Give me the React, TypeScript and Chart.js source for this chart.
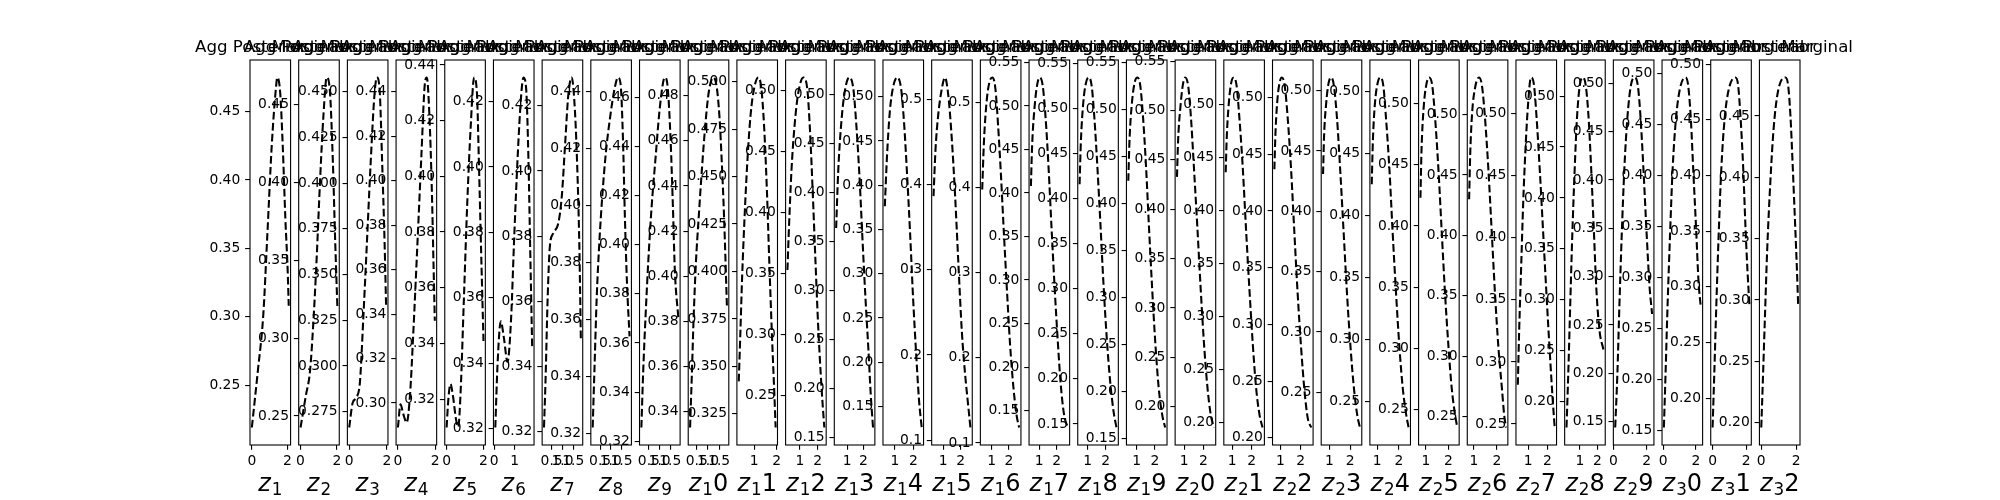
import React, { useEffect, useRef } from "react";
import { Chart, registerables } from "chart.js";

Chart.register(...registerables);

// ---------------- curve data (x, y) per latent dimension ----------------
const z1x = [0, 0.35, 0.64, 0.87, 1.12, 1.35, 1.43, 1.59, 1.74, 1.88, 2.01, 2.07];
const z1y = [0.219, 0.262, 0.301, 0.36, 0.426, 0.467, 0.475, 0.464, 0.423, 0.372, 0.334, 0.308];
const z2x = [0, 0.3, 0.52, 0.7, 0.89, 1.07, 1.26, 1.44, 1.62, 1.78, 1.9, 2.03];
const z2y = [0.2426, 0.2636, 0.2786, 0.309, 0.352, 0.4, 0.443, 0.4674, 0.458, 0.413, 0.365, 0.319];
const z3x = [0, 0.18, 0.39, 0.57, 0.75, 0.93, 1.14, 1.34, 1.47, 1.61, 1.75, 1.88, 1.96];
const z3y = [0.2663, 0.2797, 0.2828, 0.2913, 0.3266, 0.3653, 0.4113, 0.4482, 0.4578, 0.4519, 0.4113, 0.367, 0.3322];
const z4x = [0, 0.14, 0.28, 0.47, 0.65, 0.83, 1.04, 1.26, 1.44, 1.55, 1.69, 1.82, 1.91, 1.98];
const z4y = [0.289, 0.2994, 0.2953, 0.2912, 0.3037, 0.3324, 0.3704, 0.4113, 0.4431, 0.4464, 0.4294, 0.396, 0.3628, 0.337];
const z5x = [0, 0.1, 0.21, 0.36, 0.5, 0.63, 0.76, 0.94, 1.12, 1.31, 1.49, 1.64, 1.76, 1.87, 2.0];
const z5y = [0.3098, 0.3204, 0.3254, 0.3204, 0.3131, 0.31, 0.3227, 0.3566, 0.3905, 0.4183, 0.4355, 0.4305, 0.4026, 0.3735, 0.3409];
const z6x = [0.05, 0.16, 0.32, 0.47, 0.65, 0.82, 0.98, 1.15, 1.32, 1.43, 1.56, 1.68, 1.76, 1.86];
const z6y = [0.3203, 0.3396, 0.3528, 0.3478, 0.3404, 0.353, 0.3788, 0.4035, 0.422, 0.4274, 0.4243, 0.4014, 0.3757, 0.3447];
const z7x = [0.15, 0.22, 0.32, 0.42, 0.575, 0.81, 0.97, 1.12, 1.27, 1.425, 1.58, 1.7, 1.78, 1.85];
const z7y = [0.3213, 0.3355, 0.3613, 0.3768, 0.3809, 0.384, 0.3922, 0.4078, 0.4233, 0.4287, 0.418, 0.3976, 0.3768, 0.3478];
const z8x = [0.15, 0.24, 0.34, 0.46, 0.6, 0.77, 0.96, 1.15, 1.34, 1.46, 1.57, 1.66, 1.76, 1.88];
const z8y = [0.3221, 0.3442, 0.3679, 0.3868, 0.4033, 0.4187, 0.4306, 0.44, 0.445, 0.4426, 0.4235, 0.3962, 0.3725, 0.3541];
const z9x = [0.15, 0.235, 0.35, 0.475, 0.63, 0.82, 0.99, 1.17, 1.26, 1.38, 1.51, 1.62, 1.71, 1.87];
const z9y = [0.3256, 0.3484, 0.3718, 0.3937, 0.4157, 0.4363, 0.4541, 0.4664, 0.4681, 0.4638, 0.4432, 0.4157, 0.3897, 0.3705];
const z10x = [0.2, 0.28, 0.355, 0.46, 0.58, 0.73, 0.88, 1.04, 1.24, 1.39, 1.52, 1.62, 1.72, 1.85];
const z10y = [0.3329, 0.3563, 0.3802, 0.4057, 0.4251, 0.4474, 0.4668, 0.4819, 0.4881, 0.484, 0.47, 0.4504, 0.4265, 0.3863];
const z11x = [0.31, 0.375, 0.46, 0.57, 0.69, 0.835, 1.0, 1.18, 1.31, 1.435, 1.56, 1.67, 1.79, 1.9, 1.95];
const z11y = [0.3421, 0.3652, 0.397, 0.429, 0.4574, 0.4823, 0.4969, 0.5022, 0.4969, 0.4769, 0.4432, 0.4043, 0.3652, 0.3333, 0.3178];
const z12x = [0.3, 0.395, 0.53, 0.7, 0.905, 1.19, 1.42, 1.57, 1.72, 1.87, 2.02, 2.17, 2.29, 2.37];
const z12y = [0.3528, 0.3912, 0.4353, 0.4711, 0.4974, 0.5103, 0.5, 0.4656, 0.4161, 0.3609, 0.3085, 0.2672, 0.2397, 0.224];
const z13x = [0.32, 0.445, 0.61, 0.82, 1.13, 1.38, 1.57, 1.76, 1.94, 2.13, 2.32, 2.46, 2.6];
const z13y = [0.3636, 0.4203, 0.4649, 0.4991, 0.5169, 0.5058, 0.4681, 0.4168, 0.3551, 0.2931, 0.2382, 0.1937, 0.1605];
const z14x = [0.45, 0.56, 0.72, 0.905, 1.13, 1.33, 1.49, 1.65, 1.82, 1.98, 2.15, 2.31, 2.45];
const z14y = [0.3762, 0.4296, 0.483, 0.5114, 0.5217, 0.5094, 0.4715, 0.4145, 0.3457, 0.2734, 0.2089, 0.1556, 0.1263];
const z15x = [0.45, 0.565, 0.715, 0.91, 1.1, 1.29, 1.49, 1.68, 1.865, 2.06, 2.25, 2.44, 2.55];
const z15y = [0.3865, 0.442, 0.4814, 0.5111, 0.5258, 0.5052, 0.4539, 0.3865, 0.3077, 0.2283, 0.177, 0.1375, 0.1149];
const z16x = [0.44, 0.54, 0.695, 0.85, 1.03, 1.21, 1.37, 1.54, 1.71, 1.9, 2.07, 2.27, 2.45, 2.6];
const z16y = [0.3978, 0.4533, 0.5006, 0.5228, 0.5294, 0.5167, 0.473, 0.4138, 0.3464, 0.2752, 0.216, 0.1646, 0.1329, 0.1181];
const z17x = [0.53, 0.6, 0.74, 0.89, 1.04, 1.2, 1.37, 1.54, 1.71, 1.89, 2.06, 2.23, 2.42, 2.63];
const z17y = [0.408, 0.4547, 0.4989, 0.5247, 0.5327, 0.5235, 0.4857, 0.4274, 0.3578, 0.2882, 0.2299, 0.1797, 0.1451, 0.1306];
const z18x = [0.56, 0.63, 0.76, 0.91, 1.06, 1.225, 1.38, 1.54, 1.71, 1.88, 2.06, 2.25, 2.44, 2.6];
const z18y = [0.4157, 0.4622, 0.5053, 0.5278, 0.534, 0.5251, 0.4886, 0.4363, 0.3726, 0.3055, 0.2458, 0.1973, 0.1636, 0.1461];
const z19x = [0.55, 0.62, 0.745, 0.89, 1.04, 1.2, 1.35, 1.51, 1.67, 1.84, 2.02, 2.2, 2.39, 2.55];
const z19y = [0.4241, 0.4688, 0.5064, 0.528, 0.5339, 0.5253, 0.4918, 0.4401, 0.3757, 0.311, 0.2504, 0.2038, 0.1752, 0.1618];
const z20x = [0.63, 0.69, 0.82, 0.94, 1.06, 1.22, 1.36, 1.51, 1.69, 1.87, 2.04, 2.22, 2.39, 2.55];
const z20y = [0.4328, 0.4703, 0.506, 0.5265, 0.5335, 0.524, 0.4922, 0.4431, 0.382, 0.3173, 0.2629, 0.2187, 0.1915, 0.1788];
const z21x = [0.67, 0.73, 0.83, 0.95, 1.08, 1.23, 1.37, 1.54, 1.715, 1.89, 2.06, 2.23, 2.405, 2.56];
const z21y = [0.4361, 0.4707, 0.5011, 0.5202, 0.5255, 0.5179, 0.4882, 0.4423, 0.382, 0.3249, 0.274, 0.2328, 0.2074, 0.1955];
const z22x = [0.7, 0.76, 0.86, 0.97, 1.07, 1.21, 1.355, 1.52, 1.68, 1.85, 2.02, 2.19, 2.35, 2.52];
const z22y = [0.4368, 0.471, 0.5, 0.5139, 0.5176, 0.5105, 0.4827, 0.4383, 0.3834, 0.327, 0.2794, 0.2409, 0.2171, 0.2091];
const z23x = [0.7, 0.75, 0.85, 0.965, 1.095, 1.22, 1.37, 1.53, 1.69, 1.85, 2.02, 2.18, 2.34, 2.47];
const z23y = [0.4309, 0.4628, 0.4894, 0.5062, 0.5109, 0.5042, 0.477, 0.4323, 0.3819, 0.3317, 0.287, 0.2537, 0.2313, 0.2209];
const z24x = [0.75, 0.8, 0.89, 1.02, 1.14, 1.28, 1.4, 1.56, 1.71, 1.865, 2.02, 2.17, 2.33, 2.44];
const z24y = [0.4253, 0.4592, 0.4892, 0.507, 0.5115, 0.505, 0.4796, 0.4375, 0.3858, 0.3369, 0.2934, 0.2609, 0.2392, 0.229];
const z25x = [0.76, 0.81, 0.9, 1.02, 1.15, 1.285, 1.41, 1.56, 1.71, 1.855, 2.01, 2.15, 2.3, 2.4];
const z25y = [0.423, 0.4629, 0.4958, 0.5152, 0.5212, 0.5146, 0.4889, 0.4464, 0.3941, 0.3447, 0.3007, 0.2679, 0.2459, 0.2356];
const z26x = [0.79, 0.84, 0.925, 1.06, 1.22, 1.35, 1.48, 1.63, 1.78, 1.92, 2.07, 2.22, 2.32, 2.4];
const z26y = [0.4299, 0.4687, 0.5023, 0.5232, 0.5307, 0.524, 0.498, 0.4548, 0.4018, 0.3517, 0.307, 0.2737, 0.2514, 0.241];
const z27x = [0.46, 0.53, 0.64, 0.74, 0.86, 0.99, 1.145, 1.3, 1.44, 1.61, 1.79, 1.97, 2.14, 2.27, 2.38];
const z27y = [0.2816, 0.325, 0.3794, 0.4282, 0.4716, 0.5068, 0.5291, 0.5232, 0.4961, 0.4527, 0.4011, 0.3495, 0.3036, 0.2709, 0.2472];
const z28x = [0.23, 0.33, 0.44, 0.56, 0.7, 0.83, 0.985, 1.16, 1.33, 1.49, 1.64, 1.8, 1.95, 2.13, 2.35];
const z28y = [0.1745, 0.2264, 0.2928, 0.3622, 0.4282, 0.478, 0.5094, 0.5183, 0.5111, 0.4812, 0.4317, 0.3687, 0.3093, 0.2694, 0.2512];
const z29x = [0.1, 0.23, 0.35, 0.49, 0.65, 0.83, 1.05, 1.29, 1.47, 1.63, 1.81, 1.99, 2.17, 2.32];
const z29y = [0.144, 0.1987, 0.2685, 0.3416, 0.4112, 0.4637, 0.4984, 0.506, 0.4966, 0.4637, 0.4079, 0.345, 0.2892, 0.2614];
const z30x = [0.05, 0.15, 0.27, 0.42, 0.58, 0.785, 1.03, 1.356, 1.52, 1.685, 1.84, 2.01, 2.15, 2.29];
const z30y = [0.1532, 0.205, 0.271, 0.3403, 0.406, 0.4557, 0.4852, 0.4958, 0.4886, 0.4557, 0.403, 0.3468, 0.2971, 0.271];
const z31x = [0, 0.1, 0.22, 0.36, 0.52, 0.72, 0.98, 1.36, 1.52, 1.66, 1.83, 1.96, 2.09, 2.2];
const z31y = [0.1736, 0.2211, 0.2818, 0.3453, 0.4056, 0.4512, 0.4783, 0.488, 0.4814, 0.4541, 0.4056, 0.3544, 0.312, 0.283];
const z32x = [0, 0.09, 0.21, 0.34, 0.52, 0.71, 0.96, 1.39, 1.54, 1.675, 1.815, 1.95, 2.065, 2.12];
const z32y = [0.1961, 0.2337, 0.286, 0.3407, 0.3957, 0.4397, 0.4699, 0.4813, 0.4753, 0.4505, 0.4066, 0.3601, 0.3188, 0.2953];

// ---------------- tick labels ----------------
const T_25_45 = ["0.25", "0.30", "0.35", "0.40", "0.45"];
const T_275_450 = ["0.275", "0.300", "0.325", "0.350", "0.375", "0.400", "0.425", "0.450"];
const T_30_44 = ["0.30", "0.32", "0.34", "0.36", "0.38", "0.40", "0.42", "0.44"];
const T_32_44 = ["0.32", "0.34", "0.36", "0.38", "0.40", "0.42", "0.44"];
const T_32_42 = ["0.32", "0.34", "0.36", "0.38", "0.40", "0.42"];
const T_32_46 = ["0.32", "0.34", "0.36", "0.38", "0.40", "0.42", "0.44", "0.46"];
const T_34_48 = ["0.34", "0.36", "0.38", "0.40", "0.42", "0.44", "0.46", "0.48"];
const T_325_500 = ["0.325", "0.350", "0.375", "0.400", "0.425", "0.450", "0.475", "0.500"];
const T_25_50 = ["0.25", "0.30", "0.35", "0.40", "0.45", "0.50"];
const T_15_50 = ["0.15", "0.20", "0.25", "0.30", "0.35", "0.40", "0.45", "0.50"];
const T_1_5 = ["0.1", "0.2", "0.3", "0.4", "0.5"];
const T_15_55 = ["0.15", "0.20", "0.25", "0.30", "0.35", "0.40", "0.45", "0.50", "0.55"];
const T_20_55 = ["0.20", "0.25", "0.30", "0.35", "0.40", "0.45", "0.50", "0.55"];
const T_20_50 = ["0.20", "0.25", "0.30", "0.35", "0.40", "0.45", "0.50"];
const T_20_45 = ["0.20", "0.25", "0.30", "0.35", "0.40", "0.45"];

const X_0_2 = ["0", "2"];
const X_0_1 = ["0", "1"];
const X_HALF = ["0.5", "1.0", "1.5"];
const X_1_2 = ["1", "2"];

const TITLE_LEFT = "Agg Posterior";
const TITLE_RIGHT = "Marginal";

const curveX = [z1x, z2x, z3x, z4x, z5x, z6x, z7x, z8x, z9x, z10x, z11x, z12x, z13x, z14x, z15x, z16x,
  z17x, z18x, z19x, z20x, z21x, z22x, z23x, z24x, z25x, z26x, z27x, z28x, z29x, z30x, z31x, z32x];
const curveY = [z1y, z2y, z3y, z4y, z5y, z6y, z7y, z8y, z9y, z10y, z11y, z12y, z13y, z14y, z15y, z16y,
  z17y, z18y, z19y, z20y, z21y, z22y, z23y, z24y, z25y, z26y, z27y, z28y, z29y, z30y, z31y, z32y];
const yTicks = [T_25_45, T_25_45, T_275_450, T_30_44, T_32_44, T_32_42, T_32_42, T_32_44, T_32_46, T_34_48,
  T_325_500, T_25_50, T_15_50, T_15_50, T_1_5, T_1_5, T_15_55, T_15_55, T_15_55, T_20_55, T_20_50, T_20_50,
  T_25_50, T_25_50, T_25_50, T_25_50, T_25_50, T_20_50, T_15_50, T_15_50, T_20_50, T_20_45];
const xTicks = [X_0_2, X_0_2, X_0_2, X_0_2, X_0_2, X_0_1, X_HALF, X_HALF, X_HALF, X_HALF,
  X_1_2, X_1_2, X_1_2, X_1_2, X_1_2, X_1_2, X_1_2, X_1_2, X_1_2, X_1_2, X_1_2, X_1_2, X_1_2, X_1_2,
  X_1_2, X_1_2, X_1_2, X_1_2, X_0_2, X_0_2, X_0_2, X_0_2];

// ---------------- layout (matplotlib-like subplot grid) ----------------
const FIG_W = 2000;
const FIG_H = 500;
const N = curveX.length;
const AX_LEFT = 0.125 * FIG_W;
const AX_RIGHT = 0.9 * FIG_W;
const AX_TOP = 0.12 * FIG_H;
const AX_BOTTOM = 0.89 * FIG_H;
const WSPACE = 0.2;
const AX_W = (AX_RIGHT - AX_LEFT) / (N + (N - 1) * WSPACE);
const STEP = AX_W * (1 + WSPACE);
const CW = 240;
const OFF = 125;
const YW = 80;
const XH = 30;
const TICK = 4.86;
const LW = 2.08;
const FONT = '"DejaVu Sans", sans-serif';

function Panel({ i }: { i: number }) {
  const ref = useRef<HTMLCanvasElement>(null);
  const L = AX_LEFT + i * STEP;
  const cLeft = Math.floor(L) - OFF;

  useEffect(() => {
    const canvas = ref.current;
    if (!canvas) return;
    const xs = curveX[i];
    const ys = curveY[i];
    const xMin = Math.min(...xs), xMax = Math.max(...xs);
    const yMin = Math.min(...ys), yMax = Math.max(...ys);
    const xLo = xMin - 0.05 * (xMax - xMin), xHi = xMax + 0.05 * (xMax - xMin);
    const yLo = yMin - 0.05 * (yMax - yMin), yHi = yMax + 0.05 * (yMax - yMin);
    const yStr = yTicks[i].filter((s) => { const v = parseFloat(s); return v >= yLo - 1e-9 && v <= yHi + 1e-9; });
    const xStr = xTicks[i].filter((s) => { const v = parseFloat(s); return v >= xLo - 1e-9 && v <= xHi + 1e-9; });
    const localL = L - cLeft;

    const decor = {
      id: "decor" + i,
      afterDatasetsDraw(chart: any) {
        const { ctx, chartArea: a } = chart;
        ctx.save();
        ctx.setLineDash([]);
        ctx.strokeStyle = "#000";
        ctx.lineWidth = 1.1;
        ctx.strokeRect(a.left, a.top, a.right - a.left, a.bottom - a.top);
        ctx.restore();
      },
      afterDraw(chart: any) {
        const { ctx, chartArea: a } = chart;
        ctx.save();
        ctx.fillStyle = "#000";
        ctx.textBaseline = "alphabetic";
        ctx.font = `16.67px ${FONT}`;
        ctx.textAlign = "left";
        ctx.fillText(TITLE_LEFT, a.left - 55, 51.7);
        ctx.textAlign = "right";
        ctx.fillText(TITLE_RIGHT, a.right + 53, 51.7);
        // x label  $z_{d}rest$
        const num = String(i + 1);
        const sub = num[0];
        const rest = num.slice(1);
        ctx.textAlign = "left";
        ctx.font = `italic 24px ${FONT}`;
        const wz = ctx.measureText("z").width;
        ctx.font = `16.8px ${FONT}`;
        const ws = ctx.measureText(sub).width;
        ctx.font = `24px ${FONT}`;
        const wr = rest ? ctx.measureText(rest).width : 0;
        const total = wz + 1 + ws + wr;
        let x0 = (a.left + a.right) / 2 - total / 2;
        const base = 490.7;
        ctx.font = `italic 24px ${FONT}`;
        ctx.fillText("z", x0, base);
        x0 += wz + 1;
        ctx.font = `16.8px ${FONT}`;
        ctx.fillText(sub, x0, base + 4);
        x0 += ws;
        if (rest) {
          ctx.font = `24px ${FONT}`;
          ctx.fillText(rest, x0, base);
        }
        ctx.restore();
      },
    };

    const tickFont = { family: FONT, size: 13.89, lineHeight: 1.2 };
    const chart = new Chart(canvas, {
      type: "line",
      data: {
        datasets: [
          {
            data: xs.map((x, k) => ({ x, y: ys[k] })),
            borderColor: "#000",
            borderWidth: LW,
            borderDash: [3.7 * LW, 1.6 * LW],
            borderCapStyle: "butt",
            borderJoinStyle: "round",
            pointRadius: 0,
            fill: false,
            cubicInterpolationMode: "monotone",
          } as any,
        ],
      },
      options: {
        animation: false,
        responsive: false,
        maintainAspectRatio: false,
        devicePixelRatio: 1,
        events: [],
        layout: {
          padding: {
            left: localL - YW,
            right: CW - (localL + AX_W),
            top: AX_TOP,
            bottom: FIG_H - AX_BOTTOM - XH,
          },
        },
        plugins: {
          legend: { display: false },
          tooltip: { enabled: false },
          title: { display: false },
        },
        scales: {
          x: {
            type: "linear",
            min: xLo,
            max: xHi,
            afterBuildTicks: (s: any) => {
              s.ticks = xStr.map((v) => ({ value: parseFloat(v) }));
            },
            afterFit: (s: any) => {
              s.height = XH;
              s.paddingLeft = 0;
              s.paddingRight = 0;
            },
            ticks: {
              autoSkip: false,
              maxRotation: 0,
              minRotation: 0,
              padding: 3,
              color: "#000",
              font: tickFont,
              callback: (_v: any, idx: number) => xStr[idx],
            },
            grid: { display: true, drawOnChartArea: false, drawTicks: true, tickLength: TICK, color: "#000", lineWidth: 1.1 },
            border: { display: false },
          },
          y: {
            type: "linear",
            min: yLo,
            max: yHi,
            afterBuildTicks: (s: any) => {
              s.ticks = yStr.map((v) => ({ value: parseFloat(v) }));
            },
            afterFit: (s: any) => {
              s.width = YW;
              s.paddingTop = 0;
              s.paddingBottom = 0;
            },
            ticks: {
              autoSkip: false,
              padding: 4.86,
              color: "#000",
              font: tickFont,
              callback: (_v: any, idx: number) => yStr[idx],
            },
            grid: { display: true, drawOnChartArea: false, drawTicks: true, tickLength: TICK, color: "#000", lineWidth: 1.1 },
            border: { display: false },
          },
        },
      } as any,
      plugins: [decor],
    });
    return () => chart.destroy();
  }, [i]);

  return (
    <canvas
      ref={ref}
      width={CW}
      height={FIG_H}
      style={{ position: "absolute", left: cLeft, top: 0, width: CW, height: FIG_H }}
    />
  );
}

export default function App() {
  return (
    <div
      style={{
        position: "absolute",
        left: 0,
        top: 0,
        width: FIG_W,
        height: FIG_H,
        background: "#fff",
        overflow: "hidden",
      }}
    >
      {curveX.map((_, i) => (
        <Panel key={i} i={i} />
      ))}
    </div>
  );
}
